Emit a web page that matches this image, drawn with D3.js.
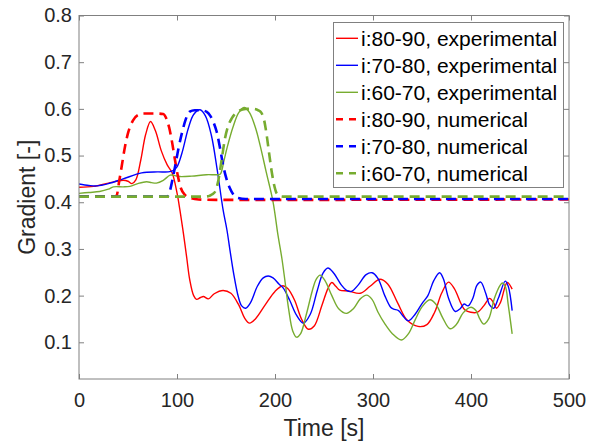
<!DOCTYPE html>
<html>
<head>
<meta charset="utf-8">
<script src="https://cdn.jsdelivr.net/npm/d3@7"></script>
<style>
  html, body { margin: 0; padding: 0; background: #fff; }
  svg { display: block; font-family: "Liberation Sans", Arial, Helvetica, sans-serif; }
</style>
</head>
<body>
<svg id="chart" width="600" height="445"></svg>
<script>
// ---------------- DATA ----------------
const xTicks = [0, 100, 200, 300, 400, 500];
const yTicks = [0.1, 0.2, 0.3, 0.4, 0.5, 0.6, 0.7, 0.8];
const seriesNames = [
  "i:80-90, experimental", "i:70-80, experimental", "i:60-70, experimental",
  "i:80-90, numerical", "i:70-80, numerical", "i:60-70, numerical"
];

const red_exp_t = [0,15,30,45,50,54,58,63,68,73,78,84,90,95,100,103,106.5,110,113,117,120,124,127,132,138,147,155,163,169,174,180,190,200,208,213,220,227,234,240,248,254,258,262,266,275,287,297,307,315,325,335,346,355,363,370,377,383,390,394,406,413,419,423,426,430,437,442];
const red_exp_v = [0.432,0.434,0.441,0.447,0.445,0.440,0.448,0.490,0.545,0.573,0.553,0.510,0.480,0.463,0.420,0.383,0.334,0.280,0.234,0.200,0.192,0.196,0.198,0.193,0.204,0.211,0.205,0.180,0.152,0.141,0.150,0.180,0.209,0.221,0.215,0.190,0.150,0.128,0.135,0.180,0.215,0.228,0.220,0.212,0.210,0.205,0.220,0.235,0.225,0.185,0.147,0.134,0.138,0.165,0.205,0.229,0.215,0.182,0.169,0.164,0.178,0.194,0.185,0.173,0.185,0.228,0.214];

const blue_exp_t = [0,10,18,30,45,64,80,91,96,100,105,111.5,117,123.5,129,135,141,147,151,154,158,162.5,166,170,175,182,188,193,198,204,208.5,215,222,229,236,243,249,254,260,268,273,278,285,293,299,305,312,318,321,326,330,336,343,350,356,362,368,372,377,384,389,393,397,402,406,410,415,419,423,428,435,438,442];
const blue_exp_v = [0.439,0.436,0.435,0.440,0.450,0.463,0.465,0.465,0.468,0.476,0.505,0.558,0.588,0.598,0.585,0.544,0.470,0.384,0.340,0.298,0.245,0.198,0.178,0.173,0.185,0.220,0.238,0.242,0.238,0.225,0.216,0.190,0.158,0.141,0.160,0.210,0.248,0.259,0.248,0.222,0.211,0.209,0.223,0.245,0.249,0.237,0.200,0.175,0.171,0.168,0.158,0.146,0.160,0.183,0.200,0.232,0.249,0.235,0.195,0.166,0.172,0.182,0.178,0.195,0.222,0.229,0.205,0.180,0.173,0.195,0.231,0.220,0.168];

const green_exp_t = [0,10,21,30,35,45,52,60,69,74,79,86,93,98,103,115,130,140,144,148,151,157,163,168.7,174,180,184.7,191,198,203,207,210,214,218,222,226,232,238,242,246,251,258,265,273,280,287,293.5,299,305,312,320,329,336,343,350,358,364,371,378.6,385,392,400,405,409,413,418,424,430,432,435,438,442];
const green_exp_v = [0.419,0.421,0.423,0.428,0.433,0.433,0.434,0.440,0.444,0.442,0.441,0.447,0.458,0.457,0.455,0.456,0.459,0.459,0.460,0.490,0.516,0.560,0.592,0.603,0.592,0.560,0.523,0.465,0.401,0.330,0.280,0.234,0.170,0.125,0.111,0.118,0.160,0.210,0.235,0.244,0.232,0.200,0.172,0.162,0.172,0.193,0.201,0.192,0.165,0.140,0.118,0.105,0.118,0.148,0.176,0.191,0.182,0.153,0.129,0.138,0.163,0.175,0.168,0.150,0.139,0.150,0.195,0.223,0.227,0.220,0.180,0.118];

const red_num_t = [0,36,38.5,41,43.5,47,50,55,60.5,66,80,86,89,92,94.6,98,101,104,108,114,122,140,500];
const red_num_v = [0.412,0.412,0.415,0.445,0.476,0.520,0.548,0.575,0.587,0.590,0.590,0.589,0.580,0.560,0.533,0.490,0.455,0.430,0.416,0.409,0.406,0.405,0.406];

const blue_num_t = [0,90,93,95.5,98,101.5,105,109,113,118,125,130,134,137.5,140.5,144,147,150.5,154,158,162.5,170,500];
const blue_num_v = [0.412,0.412,0.426,0.450,0.476,0.515,0.548,0.578,0.594,0.597,0.597,0.594,0.585,0.570,0.551,0.515,0.480,0.450,0.430,0.415,0.409,0.407,0.407];

const green_num_t = [0,125,132,136,139,142,145.5,149,152,156,162,170,178,183,186,189,191.5,194,196.6,199,201.7,205,210,500];
const green_num_v = [0.412,0.412,0.413,0.417,0.423,0.445,0.490,0.537,0.562,0.580,0.594,0.600,0.600,0.597,0.592,0.575,0.544,0.505,0.466,0.438,0.419,0.413,0.412,0.412];

// ---------------- LAYOUT ----------------
const svg = d3.select("#chart");
const L = 79, R = 569, T = 15.5, B = 379;
const x = d3.scaleLinear().domain([0, 500]).range([L, R]);
const y = d3.scaleLinear().domain([0.0214, 0.8]).range([B, T]);

const axisColor = "#808080";
const textColor = "#262626";

const zip = (ts, vs) => ts.map((t, i) => [t, vs[i]]);
const series = [
  { data: zip(red_exp_t, red_exp_v),   color: "#ff0000", dash: null, w: 1.4 },
  { data: zip(blue_exp_t, blue_exp_v), color: "#0000ff", dash: null, w: 1.4 },
  { data: zip(green_exp_t, green_exp_v), color: "#77ac30", dash: null, w: 1.4 },
  { data: zip(red_num_t, red_num_v),   color: "#ff0000", dash: "10,6", w: 2.6 },
  { data: zip(blue_num_t, blue_num_v), color: "#0000ff", dash: "10,6", w: 2.6 },
  { data: zip(green_num_t, green_num_v), color: "#77ac30", dash: "10,6", w: 2.6 }
];

// clip
svg.append("clipPath").attr("id", "clip")
  .append("rect").attr("x", L).attr("y", T).attr("width", R - L).attr("height", B - T);

const line = d3.line().x(d => x(d[0])).y(d => y(d[1]));

const g = svg.append("g").attr("clip-path", "url(#clip)");
series.forEach(s => {
  g.append("path")
    .datum(s.data)
    .attr("fill", "none")
    .attr("stroke", s.color)
    .attr("stroke-width", s.w)
    .attr("stroke-dasharray", s.dash)
    .attr("d", line.curve(s.dash ? d3.curveMonotoneX : d3.curveCatmullRom.alpha(0.5)));
});

// axes (ticks inward on all four sides)
function styleAxis(sel) {
  sel.select(".domain").remove();
  sel.selectAll(".tick line").attr("stroke", axisColor);
  sel.selectAll(".tick text").attr("fill", textColor).attr("font-size", 20)
    .attr("font-family", "Liberation Sans, Arial, sans-serif");
}
const tk = 5;
svg.append("g").attr("transform", `translate(0,${B})`)
  .call(d3.axisBottom(x).tickValues(xTicks).tickFormat(d3.format("d")).tickSizeInner(-tk).tickSizeOuter(0).tickPadding(14))
  .call(styleAxis);
svg.append("g").attr("transform", `translate(0,${T})`)
  .call(d3.axisTop(x).tickValues(xTicks).tickFormat("").tickSizeInner(-tk).tickSizeOuter(0))
  .call(styleAxis);
svg.append("g").attr("transform", `translate(${L},0)`)
  .call(d3.axisLeft(y).tickValues(yTicks).tickFormat(d3.format(".1f")).tickSizeInner(-tk).tickSizeOuter(0).tickPadding(7))
  .call(styleAxis);
svg.append("g").attr("transform", `translate(${R},0)`)
  .call(d3.axisRight(y).tickValues(yTicks).tickFormat("").tickSizeInner(-tk).tickSizeOuter(0))
  .call(styleAxis);

// box
svg.append("rect").attr("x", L).attr("y", T).attr("width", R - L).attr("height", B - T)
  .attr("fill", "none").attr("stroke", axisColor).attr("stroke-width", 1);

// axis titles
svg.append("text").attr("x", (L + R) / 2).attr("y", 436)
  .attr("text-anchor", "middle").attr("fill", textColor).attr("font-size", 23)
  .text("Time [s]");
svg.append("text")
  .attr("transform", `translate(35,${(T + B) / 2}) rotate(-90)`)
  .attr("text-anchor", "middle").attr("fill", textColor).attr("font-size", 23)
  .text("Gradient [-]");

// legend
const lg = svg.append("g");
lg.append("rect").attr("x", 333.5).attr("y", 22.5).attr("width", 230).attr("height", 165)
  .attr("fill", "#fff").attr("stroke", axisColor).attr("stroke-width", 1);
series.forEach((s, i) => {
  const cy = 38.3 + i * 27;
  lg.append("line").attr("x1", 336).attr("x2", 358).attr("y1", cy).attr("y2", cy)
    .attr("stroke", s.color).attr("stroke-width", s.dash ? 2.6 : 1.4)
    .attr("stroke-dasharray", s.dash ? "7,6" : null);
  lg.append("text").attr("x", 361).attr("y", cy).attr("dy", "0.36em")
    .attr("fill", "#000").attr("font-size", 21).text(seriesNames[i]);
});
</script>
</body>
</html>
